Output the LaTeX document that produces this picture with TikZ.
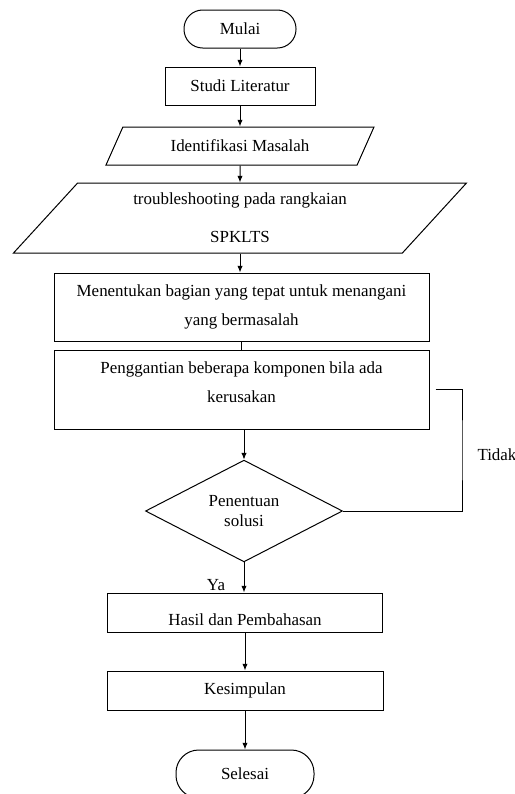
\documentclass[tikz,border=0pt]{standalone}
\usepackage{fontspec}
\setmainfont{Liberation Serif}
\usetikzlibrary{shapes.geometric, arrows.meta}

\begin{document}
\begin{tikzpicture}[x=0.75pt, y=-0.75pt, line width=0.75pt,
	>={Latex[length=5pt,width=4pt]},
	every node/.style={font=\fontsize{12.7}{21.75}\selectfont, inner sep=0pt, align=center},
	terminal/.style={draw, rectangle, rounded corners=14pt, minimum width=84pt, minimum height=28.5pt},
	proses/.style={draw, rectangle, minimum height=28.5pt},
	data/.style={draw, trapezium, trapezium stretches body, minimum height=28.5pt},
	keputusan/.style={draw, diamond, minimum width=147.75pt, minimum height=72.75pt}]
	\useasboundingbox (0,0) rectangle (515,794);
	\node[terminal] (mulai) at (240,29) {Mulai};
	\node[proses, minimum width=112.5pt] (studi) at (240,86) {Studi Literatur};
	\node[data, trapezium left angle=35.6, trapezium right angle=144.4, minimum width=201pt] (ident) at (240,146) {Identifikasi Masalah};
	\node[data, trapezium left angle=37.9, trapezium right angle=142.1, minimum width=339.75pt, minimum height=52.5pt,
		font=\fontsize{12.7}{28.5}\selectfont] (trouble) at (240,218) {troubleshooting pada rangkaian\\SPKLTS};
	\node[proses, minimum width=281.25pt, minimum height=51pt] (tentu) at (241.5,307) {Menentukan bagian yang tepat untuk menangani\\yang bermasalah};
	\node[proses, minimum width=281.25pt, minimum height=59.25pt] (ganti) at (241.5,389.5) {Penggantian beberapa komponen bila ada\\kerusakan\\[-17.25pt]\strut};
	\node[keputusan, font=\fontsize{12.7}{15}\selectfont] (solusi) at (244,511) {Penentuan\\solusi};
	\node[proses, minimum width=206.25pt, minimum height=29.25pt, text height=21pt, text depth=1pt] (hasil) at (245,612.5) {Hasil dan Pembahasan};
	\node[proses, minimum width=207pt, minimum height=29.25pt] (kes) at (245,690.5) {Kesimpulan};
	\node[terminal, rounded corners=17pt, minimum width=103.5pt, minimum height=36pt] (selesai) at (245,774) {Selesai};
	\node[anchor=west] (tidak) at (477,455) {Tidak};
	\node (ya) at (216,585) {Ya};
	\coordinate (belok) at (462,450);

	\draw[->] (mulai) -- (studi);
	\draw[->] (studi) -- (ident);
	\draw[->] (ident) -- (trouble);
	\draw[->] (trouble.south) -- (trouble.south |- tentu.north);
	\draw (tentu.south) -- (tentu.south |- ganti.north);
	\draw[->] (ganti.south -| solusi.north) -- (solusi.north);
	\draw ([xshift=4.5pt]ganti.east) -| (belok) |- (solusi.east);
	\draw[->] (solusi) -- (solusi |- hasil.north);
	\draw[->] (hasil) -- (kes);
	\draw[->] (kes) -- (selesai);
\end{tikzpicture}
\end{document}
